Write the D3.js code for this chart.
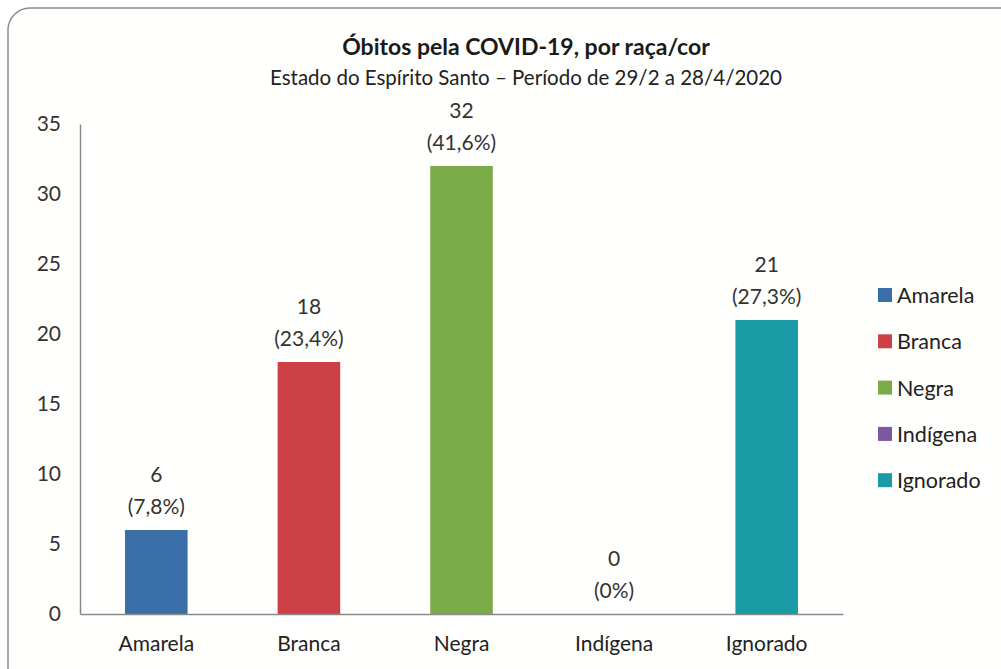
<!DOCTYPE html>
<html>
<head>
<meta charset="utf-8">
<script src="https://cdn.jsdelivr.net/npm/d3@7"></script>
<style>
  body { margin: 0; background: #fff; }
  svg { font-family: Lato, "Open Sans", sans-serif; }
</style>
</head>
<body>
<svg id="chart" width="1001" height="669"></svg>
<script>
// chart values
var categories = ["Amarela", "Branca", "Negra", "Indígena", "Ignorado"];
var obitos = [6, 18, 32, 0, 21];
var percentLabels = ["(7,8%)", "(23,4%)", "(41,6%)", "(0%)", "(27,3%)"];
var colors = ["#3a6ea6", "#cd4146", "#7aab48", "#7e57a1", "#1a9aa5"];
var yTicks = [0, 5, 10, 15, 20, 25, 30, 35];

var svg = d3.select("#chart");

// frame
svg.append("rect")
    .attr("x", 8).attr("y", 8)
    .attr("width", 1020).attr("height", 700)
    .attr("rx", 22).attr("ry", 22)
    .style("fill", "#fffffd")
    .style("stroke", "#8c8c8c")
    .style("stroke-width", 1.5);

// titles
svg.append("text")
    .attr("x", 526).attr("y", 55)
    .attr("text-anchor", "middle")
    .style("font-size", "23px")
    .style("font-weight", "bold")
    .style("fill", "#1a1a1a")
    .text("Óbitos pela COVID-19, por raça/cor");

svg.append("text")
    .attr("x", 526).attr("y", 85)
    .attr("text-anchor", "middle")
    .style("font-size", "20.5px")
    .style("fill", "#222")
    .text("Estado do Espírito Santo – Período de 29/2 a 28/4/2020");

var margin = {left: 80, top: 124};
var plotW = 763, plotH = 490;

var g = svg.append("g")
    .attr("transform", "translate(" + margin.left + "," + margin.top + ")");

var x = d3.scaleBand()
    .range([0, plotW])
    .domain(categories)
    .paddingInner(0.59)
    .paddingOuter(0.295);

var y = d3.scaleLinear()
    .range([plotH, 0])
    .domain([0, 35]);

// bars
g.selectAll(".bar")
    .data(categories)
    .enter()
    .append("rect")
        .attr("class", "bar")
        .attr("x", function(d) { return x(d); })
        .attr("y", function(d, i) { return y(obitos[i]); })
        .attr("width", x.bandwidth())
        .attr("height", function(d, i) { return plotH - y(obitos[i]); })
        .style("fill", function(d, i) { return colors[i]; });

// y axis
var yAxis = g.append("g")
    .call(d3.axisLeft(y).tickValues(yTicks).tickSize(0).tickPadding(19));
yAxis.select(".domain").style("stroke", "#8a8a8a").style("stroke-width", 1.5);
yAxis.selectAll("text")
    .style("font-size", "21px")
    .style("fill", "#333")
    .style("font-family", "Lato, 'Open Sans', sans-serif");

// x axis
var xAxis = g.append("g")
    .attr("transform", "translate(0," + plotH + ")")
    .call(d3.axisBottom(x).tickSize(0).tickPadding(22));
xAxis.select(".domain").style("stroke", "#8a8a8a").style("stroke-width", 1.5);
xAxis.selectAll("text")
    .style("font-size", "21px")
    .style("fill", "#222")
    .style("font-family", "Lato, 'Open Sans', sans-serif");

// data labels
g.selectAll(".val")
    .data(categories)
    .enter()
    .append("text")
        .attr("x", function(d) { return x(d) + x.bandwidth() / 2; })
        .attr("y", function(d, i) { return y(obitos[i]) - 48; })
        .attr("text-anchor", "middle")
        .style("font-size", "21px")
        .style("fill", "#333")
        .text(function(d, i) { return obitos[i]; });

g.selectAll(".pct")
    .data(categories)
    .enter()
    .append("text")
        .attr("x", function(d) { return x(d) + x.bandwidth() / 2; })
        .attr("y", function(d, i) { return y(obitos[i]) - 16; })
        .attr("text-anchor", "middle")
        .style("font-size", "21px")
        .style("fill", "#333")
        .text(function(d, i) { return percentLabels[i]; });

// legend
var legend = svg.append("g")
    .attr("transform", "translate(878,288)");

var leg = legend.selectAll(".leg")
    .data(categories)
    .enter()
    .append("g")
        .attr("transform", function(d, i) { return "translate(0," + (i * 46.3) + ")"; });

leg.append("rect")
    .attr("width", 14).attr("height", 14)
    .style("fill", function(d, i) { return colors[i]; });

leg.append("text")
    .attr("x", 19).attr("y", 15)
    .style("font-size", "21.5px")
    .style("fill", "#222")
    .text(function(d) { return d; });
</script>
</body>
</html>
